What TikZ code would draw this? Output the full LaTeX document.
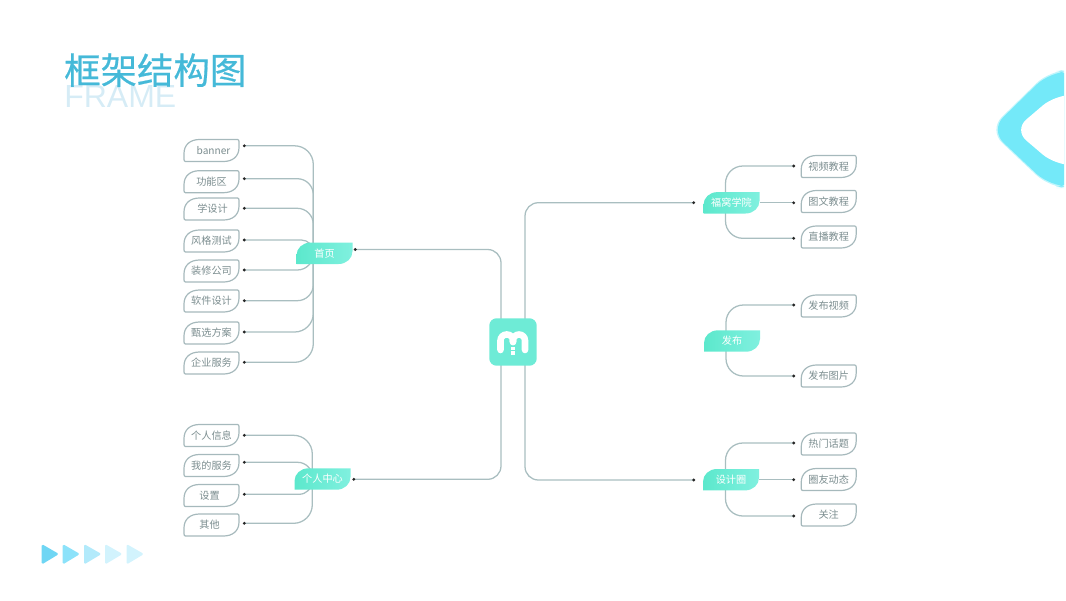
\documentclass[tikz,border=0pt]{standalone}
\usepackage{fontspec}
\setmainfont{Noto Sans CJK SC}
\newfontfamily\latinfont{Liberation Sans}
\newfontfamily\titlefont[FakeBold=0.5]{Noto Sans CJK SC}
\usetikzlibrary{arrows.meta,backgrounds}
\definecolor{linec}{HTML}{A9BEC0}
\definecolor{leafc}{HTML}{A6B9BC}
\definecolor{leaftxt}{HTML}{7C8E90}
\definecolor{teal}{HTML}{6EEBD6}
\definecolor{tealL}{HTML}{5CE8CC}
\definecolor{tealR}{HTML}{80F0DF}
\definecolor{titlec}{HTML}{45B9D8}
\definecolor{framec}{HTML}{D6ECF6}
\definecolor{iconc}{HTML}{74E9F9}
\definecolor{a1}{HTML}{6FD6F4}
\definecolor{a2}{HTML}{8CE2FA}
\definecolor{a3}{HTML}{B2EAFB}
\definecolor{a4}{HTML}{D2F3FD}
\tikzset{
  leaflabel/.style={inner sep=0pt,text=leaftxt,font=\fontsize{7.6pt}{9pt}\selectfont},
  leafedge/.style={draw=leafc,line width=0.9pt,fill=white},
  branchlabel/.style={inner sep=0pt,minimum width=42pt,minimum height=16pt,text=white,font=\fontsize{7.6pt}{9pt}\selectfont},
  conn/.style={draw=linec,line width=0.95pt},
  dotted end/.style={-{Circle[length=2pt,color=black!85]}},
  tri/.style={rounded corners=1.2pt},
}
% name, cx, cy, text, x offset of the text
\newcommand{\leafbox}[5]{%
  \draw[leafedge,shift={(#2,#3)}] (-26,11) .. controls (-27,11) and (-27.5,10) .. (-27.5,9)
    -- (-27.5,3) .. controls (-27.5,-6) and (-21,-11) .. (-12,-11)
    -- (26,-11) .. controls (27,-11) and (27.5,-10) .. (27.5,-9)
    -- (27.5,-3) .. controls (27.5,6) and (21,11) .. (12,11) -- cycle;
  \node[leaflabel] (#1) at (#2+#5,#3) {#4};
}
\newcommand{\branchbox}[4]{%
  \shade[left color=tealL,right color=tealR,shift={(#2,#3)}] (-28,10.7) -- (-28,2) .. controls (-28,-5) and (-22,-10.7) .. (-14,-10.7)
    -- (28,-10.7) -- (28,-2) .. controls (28,5) and (22,10.7) .. (14,10.7) -- cycle;
  \node[branchlabel] (#1) at (#2,#3) {#4};
}
\begin{document}
\begin{tikzpicture}[x=0.75pt,y=-0.75pt]
\useasboundingbox (0,0) rectangle (1066,600);

% title
\node[anchor=base west,inner sep=0pt,text=framec,font=\latinfont\fontsize{24pt}{30pt}\selectfont] (frame) at (64,107) {FRAME};
\node[anchor=base west,inner sep=0pt,text=titlec,font=\titlefont\fontsize{27.3pt}{30pt}\selectfont] (title) at (64,84) {框架结构图};

% corner icon
\begin{scope}
\clip (990,60) rectangle (1064,200);
\fill[iconc!45,rounded corners=14pt] (1075,70) -- (1050,70) -- (988.5,130) -- (1050,188) -- (1075,188) -- cycle;
\fill[iconc,rounded corners=14pt] (1075,71.5) -- (1050,71.5) -- (990,130) -- (1050,186.5) -- (1075,186.5) -- cycle;
\fill[white,rounded corners=12pt] (1080,95) -- (1055,95) -- (1014,130) -- (1055,165) -- (1080,165) -- cycle;
\end{scope}

% bottom arrows
\fill[tri,a1] (41.7,544) -- (59,554) -- (41.7,564.5) -- cycle;
\fill[tri,a2] (62.7,544) -- (80,554) -- (62.7,564.5) -- cycle;
\fill[tri,a3] (84,544) -- (101.5,554) -- (84,564.5) -- cycle;
\fill[tri,a4] (105,544) -- (122.5,554) -- (105,564.5) -- cycle;
\fill[tri,a4] (126.5,544) -- (144,554) -- (126.5,564.5) -- cycle;

% centre
\node[fill=teal,rounded corners=5.5pt,minimum size=35.6pt,inner sep=0pt] (m) at (513,342) {};
\draw[white,line width=4.9pt,line cap=round,rounded corners=4.5pt] (500.5,350) -- (500.5,334.5) -- (513,334.5) -- (513,342);
\draw[white,line width=4.9pt,line cap=round,rounded corners=4.5pt] (525,350) -- (525,334.5) -- (513,334.5) -- (513,342);
\fill[white] (511,346.5) rectangle (515,350);
\fill[white] (511,351.3) rectangle (515,354.8);

% branches
\branchbox{home}{324.5}{253.3}{首页}
\branchbox{person}{322.5}{479}{个人中心}
\branchbox{fw}{731.5}{202.8}{福窝学院}
\branchbox{pub}{732}{341}{发布}
\branchbox{circle}{731}{479.7}{设计圈}

% left leaves
\leafbox{la}{211.5}{150.5}{banner}{2}
\leafbox{lb}{211.5}{181.7}{功能区}{0}
\leafbox{lc}{211.5}{209}{学设计}{1}
\leafbox{ld}{211.5}{241}{风格测试}{0}
\leafbox{le}{211.5}{271}{装修公司}{0}
\leafbox{lf}{211.5}{301}{软件设计}{0}
\leafbox{lg}{211.5}{333}{甄选方案}{0}
\leafbox{lh}{211.5}{363}{企业服务}{0}
\leafbox{pa}{211.5}{435.5}{个人信息}{0}
\leafbox{pb}{211.5}{465.5}{我的服务}{0}
\leafbox{pc}{211.5}{495.5}{设置}{-2}
\leafbox{pd}{211.5}{525}{其他}{-2}
% right leaves
\leafbox{ra}{828.7}{166.5}{视频教程}{0}
\leafbox{rb}{828.7}{201.5}{图文教程}{0}
\leafbox{rc}{828.7}{237}{直播教程}{0}
\leafbox{rd}{828.7}{306}{发布视频}{0}
\leafbox{re}{828.7}{376}{发布图片}{0}
\leafbox{rf}{828.7}{444}{热门话题}{0}
\leafbox{rg}{828.7}{479.5}{圈友动态}{0}
\leafbox{rh}{828.7}{515}{关注}{0}

% connector ends and trunks
\coordinate (homeT) at (313.3,253);
\coordinate (personT) at (312.3,479);
\coordinate (fwT) at (725.5,203);
\coordinate (pubT) at (726,341);
\coordinate (circleT) at (725.5,480);
\coordinate (mL) at (501,342);
\coordinate (mR) at (525,342);
\coordinate (homeE) at (354,249.5);
\coordinate (personE) at (352.5,479.3);
\coordinate (fwE) at (695,202.7);
\coordinate (circleE) at (695,480);
\foreach \n/\x/\y in {la/243/145.8,lb/243/178.7,lc/243/208.3,ld/243/240,le/243/270,lf/243/300.7,lg/243/332,lh/243/362.3,pa/243/435.3,pb/243/462.3,pc/243/494.3,pd/243/523.3,ra/795/166,rb/795/202.8,rc/795/238.3,rd/795/305,re/795/376,rf/795/443,rg/795/479.7,rh/795/516}
  {\coordinate (\n E) at (\x,\y);}

\begin{scope}[on background layer]
\draw[conn,dotted end,rounded corners=10pt] (mL) |- (homeE);
\draw[conn,dotted end,rounded corners=10pt] (mL) |- (personE);
\draw[conn,dotted end,rounded corners=10pt] (mR) |- (fwE);
\draw[conn,dotted end,rounded corners=10pt] (mR) |- (circleE);
\draw[conn,dotted end,rounded corners=14pt] (homeT) |- (laE);
\draw[conn,dotted end,rounded corners=12pt] (homeT) |- (lbE);
\draw[conn,dotted end,rounded corners=12pt] (homeT) |- (lcE);
\draw[conn,dotted end,rounded corners=9pt] (homeT) |- (ldE);
\draw[conn,dotted end,rounded corners=12pt] (homeT) |- (leE);
\draw[conn,dotted end,rounded corners=12pt] (homeT) |- (lfE);
\draw[conn,dotted end,rounded corners=14pt] (homeT) |- (lgE);
\draw[conn,dotted end,rounded corners=14pt] (homeT) |- (lhE);
\draw[conn,dotted end,rounded corners=14pt] (personT) |- (paE);
\draw[conn,dotted end,rounded corners=11pt] (personT) |- (pbE);
\draw[conn,dotted end,rounded corners=10pt] (personT) |- (pcE);
\draw[conn,dotted end,rounded corners=14pt] (personT) |- (pdE);
\draw[conn,dotted end,rounded corners=13pt] (fwT) |- (raE);
\draw[conn,dotted end] (fw.east) -- (rbE);
\draw[conn,dotted end,rounded corners=13pt] (fwT) |- (rcE);
\draw[conn,dotted end,rounded corners=13pt] (pubT) |- (rdE);
\draw[conn,dotted end,rounded corners=13pt] (pubT) |- (reE);
\draw[conn,dotted end,rounded corners=13pt] (circleT) |- (rfE);
\draw[conn,dotted end] (circle.east) -- (rgE);
\draw[conn,dotted end,rounded corners=13pt] (circleT) |- (rhE);
\end{scope}
\end{tikzpicture}
\end{document}
